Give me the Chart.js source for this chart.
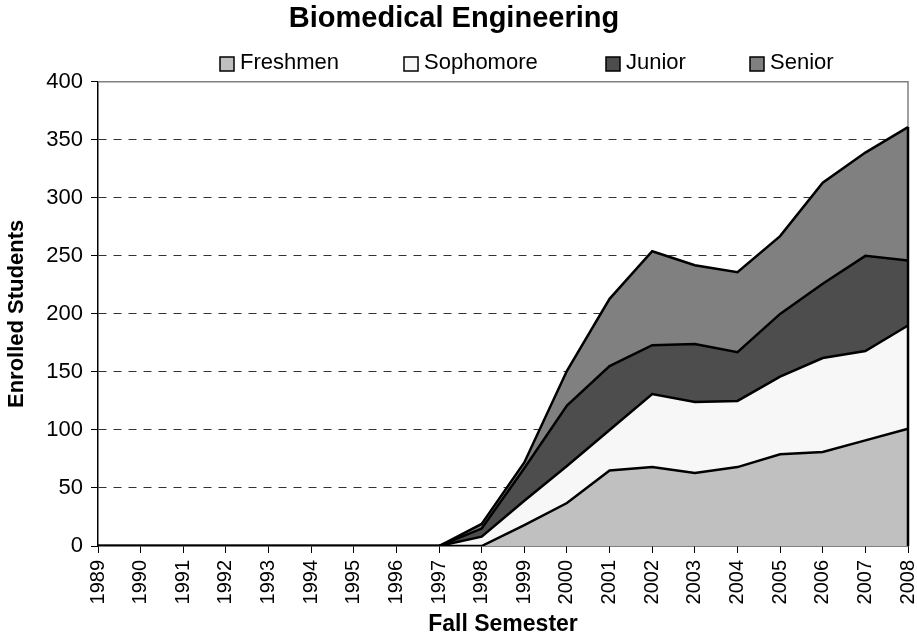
<!DOCTYPE html>
<html>
<head>
<meta charset="utf-8">
<script src="https://cdn.jsdelivr.net/npm/chart.js@4.4.0/dist/chart.umd.min.js"></script>
<style>
  html, body { margin: 0; padding: 0; background: #fff; }
</style>
</head>
<body>
<canvas id="enroll-chart" width="917" height="638"></canvas>
<script>
// Enrollment by class year
const years = ['1989', '1990', '1991', '1992', '1993', '1994', '1995', '1996', '1997', '1998',
               '1999', '2000', '2001', '2002', '2003', '2004', '2005', '2006', '2007', '2008'];
const freshmen  = [0, 0, 0, 0, 0, 0, 0, 0, 0, 0, 18, 37, 65, 68, 63, 68, 79, 81, 91, 101];
const sophomore = [0, 0, 0, 0, 0, 0, 0, 0, 0, 8, 21, 32, 35, 63, 61, 57, 67, 81, 77, 89];
const junior    = [0, 0, 0, 0, 0, 0, 0, 0, 0, 7, 28, 52, 55, 42, 50, 42, 54, 64, 82, 56];
const senior    = [0, 0, 0, 0, 0, 0, 0, 0, 0, 4, 5, 30, 58, 81, 68, 69, 67, 87, 89, 115];
const yTicks = [0, 50, 100, 150, 200, 250, 300, 350, 400];

const FONT = '"Liberation Sans", Arial, sans-serif';

const series = [
    { label: 'Freshmen',  data: freshmen,  color: '#c0c0c0' },
    { label: 'Sophomore', data: sophomore, color: '#f7f7f7' },
    { label: 'Junior',    data: junior,    color: '#4d4d4d' },
    { label: 'Senior',    data: senior,    color: '#808080' }
];

// Excel-style legend row + gray plot frame on top/right
const framePlugin = {
    id: 'frame',
    beforeDatasetsDraw(chart) {
        const { ctx, chartArea: a } = chart;
        ctx.save();
        ctx.strokeStyle = '#808080';
        ctx.lineWidth = 1.5;
        ctx.beginPath();
        ctx.moveTo(a.left, a.top);
        ctx.lineTo(a.right, a.top);
        ctx.lineTo(a.right, a.bottom);
        ctx.stroke();
        ctx.restore();
    },
    afterDatasetsDraw(chart) {
        const { ctx, chartArea: a } = chart;
        // close the stacked areas at the right edge
        const top = chart.getDatasetMeta(series.length - 1).data;
        const last = top[top.length - 1];
        ctx.save();
        ctx.strokeStyle = '#000';
        ctx.lineWidth = 2.5;
        ctx.beginPath();
        ctx.moveTo(last.x, last.y);
        ctx.lineTo(last.x, a.bottom);
        ctx.stroke();
        ctx.restore();
    },
    afterDraw(chart) {
        const { ctx } = chart;
        const boxX = [220, 404, 606, 750];
        ctx.save();
        ctx.font = '22px ' + FONT;
        ctx.textBaseline = 'alphabetic';
        chart.data.datasets.forEach((ds, i) => {
            ctx.fillStyle = ds.backgroundColor;
            ctx.fillRect(boxX[i], 57, 14, 14);
            ctx.strokeStyle = '#000';
            ctx.lineWidth = 1.5;
            ctx.strokeRect(boxX[i], 57, 14, 14);
            ctx.fillStyle = '#000';
            ctx.fillText(ds.label, boxX[i] + 20, 69);
        });
        ctx.restore();
    }
};

new Chart(document.getElementById('enroll-chart').getContext('2d'), {
    type: 'line',
    data: {
        labels: years,
        datasets: series.map((s, i) => ({
            label: s.label,
            data: s.data,
            backgroundColor: s.color,
            borderColor: '#000',
            borderWidth: 2.5,
            pointRadius: 0,
            tension: 0,
            fill: i === 0 ? 'origin' : '-1'
        }))
    },
    options: {
        responsive: false,
        animation: false,
        layout: { padding: { top: 0, right: 9, bottom: 0, left: 0 } },
        plugins: {
            legend: { display: false },
            tooltip: { enabled: false },
            title: {
                display: true,
                text: 'Biomedical Engineering',
                color: '#000',
                font: { family: FONT, size: 29, weight: 'bold' },
                padding: { top: 2, bottom: 45 }
            }
        },
        scales: {
            x: {
                type: 'category',
                offset: false,
                grid: {
                    drawOnChartArea: false,
                    drawTicks: true,
                    tickLength: 7,
                    tickColor: '#000'
                },
                border: { color: '#000', width: 1.5 },
                ticks: {
                    color: '#000',
                    font: { family: FONT, size: 20 },
                    minRotation: 90,
                    maxRotation: 90,
                    autoSkip: false,
                    padding: 7
                },
                title: {
                    display: true,
                    text: 'Fall Semester',
                    color: '#000',
                    font: { family: FONT, size: 23, weight: 'bold' },
                    padding: { top: 0, bottom: 0 }
                },
                afterFit: (scale) => {
                    scale.height = 92;
                    scale.paddingLeft = 0;
                    scale.paddingRight = 0;
                }
            },
            y: {
                stacked: true,
                min: 0,
                max: 400,
                afterBuildTicks: (scale) => {
                    scale.ticks = yTicks.map(v => ({ value: v }));
                },
                grid: {
                    color: (ctx) => (ctx.tick && (ctx.tick.value === 0 || ctx.tick.value === 400)) ? 'rgba(0,0,0,0)' : '#333',
                    tickColor: '#000',
                    tickLength: 7,
                    lineWidth: 1
                },
                border: { color: '#000', width: 1.5, dash: [8, 7] },
                ticks: {
                    color: '#000',
                    font: { family: FONT, size: 22 },
                    padding: 8
                },
                title: {
                    display: true,
                    text: 'Enrolled Students',
                    color: '#000',
                    font: { family: FONT, size: 22, weight: 'bold' },
                    padding: { top: 4, bottom: 0 }
                },
                afterFit: (scale) => {
                    scale.width = 98;
                    scale.paddingTop = 0;
                    scale.paddingBottom = 0;
                }
            }
        }
    },
    plugins: [framePlugin]
});
</script>
</body>
</html>
